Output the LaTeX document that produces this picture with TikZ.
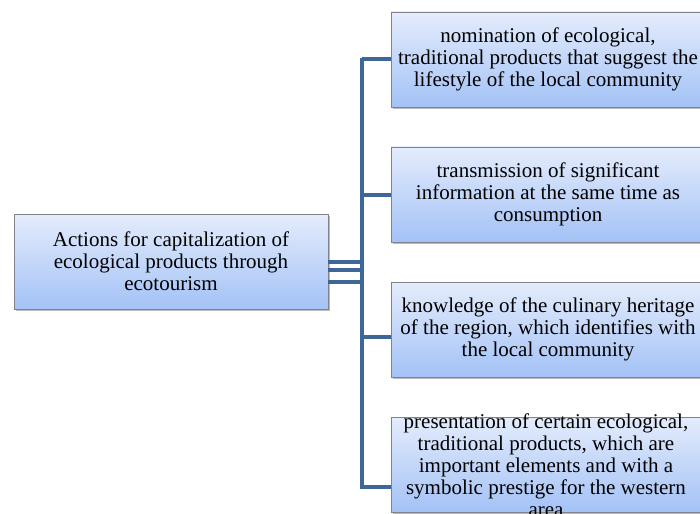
\documentclass[tikz,border=0pt]{standalone}
\usepackage{fontspec}
\setmainfont{Liberation Serif}
\usetikzlibrary{shadows}
\definecolor{topc}{RGB}{228,236,252}
\definecolor{botc}{RGB}{163,194,246}
\definecolor{edgec}{RGB}{130,130,140}
\definecolor{connc}{RGB}{62,102,150}
\tikzset{
  txt/.style={align=center, font=\fontsize{21}{22}\selectfont},
  box/.style={txt, draw=edgec, line width=0.8pt, top color=topc, bottom color=botc,
    drop shadow={shadow xshift=2pt, shadow yshift=-2pt, opacity=0.45, fill=black!60},
    minimum height=95pt, inner sep=0pt},
  conn/.style={draw=connc, line width=4pt}
}
\begin{document}
\begin{tikzpicture}[x=1pt,y=-1pt]
\useasboundingbox (0,0) rectangle (700,513);
\clip (0,0) rectangle (700,513);
\node[box, minimum width=314pt] (L) at (171,261.5) {Actions for capitalization of\\ecological products through\\ecotourism};
\node[box, minimum width=314pt] (b1) at (548,59.5) {nomination of ecological,\\traditional products that suggest the\\lifestyle of the local community};
\node[box, minimum width=314pt] (b2) at (548,194.5) {transmission of significant\\information at the same time as\\consumption};
\node[box, minimum width=314pt] (b3) at (548,329.5) {knowledge of the culinary heritage\\of the region, which identifies with\\the local community};
\node[box, minimum width=314pt] (b4) at (548,464.5) {};
\node[txt, inner sep=0pt, anchor=north] (t4) at (546,414) {presentation of certain ecological,\\traditional products, which are\\important elements and with a\\symbolic prestige for the western\\area};
\coordinate (bt) at (362,58);
\coordinate (bb) at (362,489);
\coordinate (y3) at (0,337);
\coordinate (y4) at (0,487);
\coordinate (l1) at (0,262);
\coordinate (l2) at (0,270);
\coordinate (l3) at (0,282);
\draw[conn] (bt) -- (bb);
\draw[conn] (b1.west) -- (b1.west -| bt);
\draw[conn] (b2.west) -- (b2.west -| bt);
\draw[conn] (b3.west |- y3) -- (bt |- y3);
\draw[conn] (b4.west |- y4) -- (bt |- y4);
\draw[conn] (L.east |- l1) -- (bt |- l1);
\draw[conn] (L.east |- l2) -- (bt |- l2);
\draw[conn] (L.east |- l3) -- (bt |- l3);
\end{tikzpicture}
\end{document}
